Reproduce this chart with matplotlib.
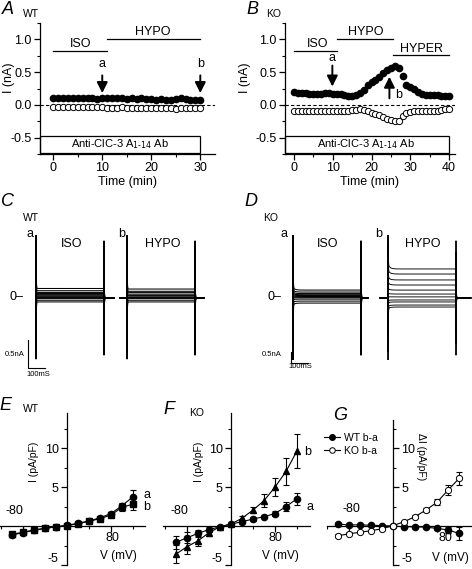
import numpy as np
import matplotlib
matplotlib.use('Agg')
import matplotlib.pyplot as plt
from matplotlib.patches import Rectangle
from matplotlib.lines import Line2D

plt.rcParams['font.family'] = ['Liberation Sans', 'DejaVu Sans']
plt.rcParams['axes.unicode_minus'] = False
plt.rcParams['axes.linewidth'] = 0.9
plt.rcParams['xtick.major.width'] = 0.9
plt.rcParams['ytick.major.width'] = 0.9
plt.rcParams['xtick.minor.width'] = 0.8
plt.rcParams['ytick.minor.width'] = 0.8

# ---- data: time courses (A, B) ----
tA = list(range(0, 31))
wt_filled = [0.10, 0.10, 0.11, 0.10, 0.11, 0.10, 0.11, 0.10, 0.10, 0.09, 0.11,
             0.11, 0.10, 0.10, 0.10, 0.09, 0.10, 0.09, 0.10, 0.09, 0.09, 0.08,
             0.09, 0.08, 0.08, 0.09, 0.10, 0.09, 0.08, 0.08, 0.08]
wt_open = [-0.03, -0.03, -0.03, -0.03, -0.04, -0.04, -0.04, -0.04, -0.04, -0.04,
           -0.04, -0.05, -0.05, -0.05, -0.04, -0.05, -0.05, -0.05, -0.05, -0.05,
           -0.05, -0.05, -0.05, -0.05, -0.05, -0.06, -0.05, -0.05, -0.05, -0.05, -0.05]
tB = list(range(0, 41))
ko_filled = [0.19, 0.18, 0.18, 0.18, 0.17, 0.17, 0.17, 0.17, 0.18, 0.18, 0.17,
             0.17, 0.16, 0.15, 0.14, 0.14, 0.15, 0.18, 0.23, 0.30, 0.35, 0.38,
             0.42, 0.48, 0.53, 0.56, 0.60, 0.57, 0.44, 0.31, 0.27, 0.24, 0.20,
             0.16, 0.15, 0.15, 0.15, 0.15, 0.14, 0.14, 0.14]
ko_open = [-0.09, -0.09, -0.09, -0.09, -0.09, -0.09, -0.09, -0.09, -0.09, -0.09,
           -0.09, -0.09, -0.09, -0.09, -0.09, -0.08, -0.08, -0.07, -0.08, -0.10,
           -0.12, -0.14, -0.16, -0.19, -0.21, -0.23, -0.25, -0.24, -0.17, -0.13,
           -0.11, -0.10, -0.10, -0.10, -0.10, -0.10, -0.09, -0.09, -0.08, -0.07, -0.07]

# ---- data: current traces (C, D), steady levels in nA ----
wt_iso_levels = [0.17, 0.13, 0.10, 0.08, 0.06, 0.04, 0.03, 0.01, -0.01, -0.04, -0.07]
wt_hypo_levels = [0.16, 0.12, 0.10, 0.07, 0.05, 0.04, 0.02, 0.01, -0.01, -0.04, -0.07]
ko_iso_levels = [0.36, 0.27, 0.20, 0.15, 0.11, 0.07, 0.04, 0.01, -0.05, -0.14, -0.23]
ko_hypo_levels = [1.32, 1.09, 0.82, 0.59, 0.36, 0.18, 0.05, -0.09, -0.18, -0.32, -0.41]

# ---- data: I-V (E, F, G) ----
V = [-100, -80, -60, -40, -20, 0, 20, 40, 60, 80, 100, 120]
E_a = [-1.15, -0.85, -0.55, -0.3, -0.1, 0.1, 0.35, 0.65, 1.05, 1.6, 2.6, 3.75]
E_a_err = [0.2, 0.15, 0.1, 0.1, 0.05, 0.05, 0.05, 0.1, 0.15, 0.2, 0.4, 0.9]
E_b = [-1.05, -0.8, -0.5, -0.3, -0.1, 0.05, 0.3, 0.6, 0.95, 1.4, 2.4, 2.8]
E_b_err = [0.2, 0.15, 0.1, 0.1, 0.05, 0.05, 0.05, 0.1, 0.15, 0.3, 0.5, 0.8]
F_a = [-2.1, -1.5, -0.95, -0.45, -0.1, 0.25, 0.55, 0.9, 1.2, 1.6, 2.5, 3.5]
F_a_err = [0.8, 0.7, 0.5, 0.3, 0.15, 0.1, 0.15, 0.2, 0.2, 0.3, 0.6, 0.8]
F_b = [-3.6, -2.65, -1.9, -0.85, -0.1, 0.25, 1.0, 2.05, 3.25, 5.0, 7.0, 9.65]
F_b_err = [1.2, 1.0, 0.6, 0.4, 0.2, 0.1, 0.3, 0.4, 0.8, 1.2, 1.7, 2.2]
G_wt = [0.25, 0.15, 0.15, 0.1, 0.05, 0.0, -0.1, -0.1, -0.15, -0.3, -0.5, -0.95]
G_wt_err = [0.1, 0.1, 0.1, 0.05, 0.05, 0.05, 0.05, 0.05, 0.1, 0.2, 0.4, 0.8]
G_ko = [-1.25, -1.0, -0.8, -0.6, -0.35, 0.05, 0.55, 1.2, 2.05, 3.05, 4.6, 6.1]
G_ko_err = [0.2, 0.2, 0.15, 0.1, 0.1, 0.05, 0.1, 0.2, 0.3, 0.4, 0.6, 0.8]

W, H = 472.0, 569.0
fig = plt.figure(figsize=(W / 100, H / 100), dpi=100)


def ax_px(x0, y0, x1, y1):
    return fig.add_axes([x0 / W, 1 - y1 / H, (x1 - x0) / W, (y1 - y0) / H])


def ftext(x, y, s, **kw):
    kw.setdefault('ha', 'center')
    kw.setdefault('va', 'center')
    fig.text(x / W, 1 - y / H, s, **kw)


def arrow(ax, x, y_from, y_to):
    ax.annotate('', xy=(x, y_to), xytext=(x, y_from),
                arrowprops=dict(arrowstyle='-|>', color='k', lw=1.4,
                                mutation_scale=16, shrinkA=0, shrinkB=0))


def time_panel(ax, t, filled, opened, xlim, t_end):
    ax.set_xlim(xlim)
    ax.set_ylim(-0.742, 1.242)
    ax.spines[['top', 'right']].set_visible(False)
    ax.set_yticks([-0.5, 0, 0.5, 1.0])
    ax.set_yticklabels(['-0.5', '0.0', '0.5', '1.0'])
    ax.set_yticks(np.arange(-0.75, 1.3, 0.25), minor=True)
    ax.set_xticks(np.arange(0, t_end + 1, 10))
    ax.set_xticks(np.arange(5, t_end, 10), minor=True)
    ax.tick_params(direction='out', length=4, labelsize=9, pad=2)
    ax.tick_params(which='minor', length=2.5)
    ax.axhline(0, ls=(0, (3, 2)), lw=0.8, color='k')
    ax.plot(t, filled, 'o', color='k', ms=4.5, zorder=3)
    ax.plot(t, opened, 'o', mfc='white', mec='k', ms=4.5, mew=0.7, zorder=3)
    ax.add_patch(Rectangle((xlim[0], -0.742), t_end - xlim[0], 0.742 - 0.47,
                           fill=False, lw=0.9, ec='k', clip_on=False))
    ax.set_xlabel('Time (min)', fontsize=9, labelpad=1)


# ---- A ----
axA = ax_px(40, 23, 215, 154)
time_panel(axA, tA, wt_filled, wt_open, (-2.7, 33), 30)
axA.text(13.7, -0.6, 'Anti-ClC-3 A$_{1\u201014}$ Ab', fontsize=8, ha='center', va='center')
axA.plot([0, 11], [0.83, 0.83], 'k-', lw=0.9)
axA.plot([11, 30], [1.0, 1.0], 'k-', lw=0.9)
axA.text(5.5, 0.93, 'ISO', fontsize=9, ha='center', va='center')
axA.text(20.4, 1.11, 'HYPO', fontsize=9, ha='center', va='center')
arrow(axA, 10, 0.45, 0.18)
arrow(axA, 30, 0.45, 0.18)
axA.text(10, 0.62, 'a', fontsize=9, ha='center', va='center')
axA.text(30, 0.62, 'b', fontsize=9, ha='center', va='center')
ftext(9, 78, 'I (nA)', fontsize=9, rotation=90)
ftext(8, 10, 'A', fontsize=13, style='italic')
ftext(31, 14, 'WT', fontsize=7.5)

# ---- B ----
axB = ax_px(285, 23, 455, 154)
time_panel(axB, tB, ko_filled, ko_open, (-2.3, 41.5), 40)
axB.text(18.6, -0.6, 'Anti-ClC-3 A$_{1\u201014}$ Ab', fontsize=8, ha='center', va='center')
axB.plot([0, 11], [0.83, 0.83], 'k-', lw=0.9)
axB.plot([11, 25.5], [1.0, 1.0], 'k-', lw=0.9)
axB.plot([25.5, 40], [0.76, 0.76], 'k-', lw=0.9)
axB.text(6.1, 0.93, 'ISO', fontsize=9, ha='center', va='center')
axB.text(18.6, 1.11, 'HYPO', fontsize=9, ha='center', va='center')
axB.text(32.8, 0.85, 'HYPER', fontsize=9, ha='center', va='center')
arrow(axB, 9.9, 0.6, 0.28)
arrow(axB, 24.6, 0.1, 0.43)
axB.text(9.9, 0.71, 'a', fontsize=9, ha='center', va='center')
axB.text(27, 0.15, 'b', fontsize=9, ha='center', va='center')
ftext(245, 78, 'I (nA)', fontsize=9, rotation=90)
ftext(252, 10, 'B', fontsize=13, style='italic')
ftext(274, 14, 'KO', fontsize=7.5)


# ---- C, D: current traces ----
def trace_axes(x0, x1, onset_px, px_per_nA):
    ax = ax_px(x0, 235, x1, 360)
    px_ms = 0.17
    ax.set_xlim((x0 - onset_px) / px_ms, (x1 - onset_px) / px_ms)
    ax.set_ylim(-(360 - 298) / px_per_nA, (298 - 235) / px_per_nA)
    ax.axis('off')
    return ax


def draw_traces(ax, levels, spike, t_start, t_end, decay=0.0, lw=0.75):
    t = np.arange(t_start, t_end, 0.5)
    n = len(levels)
    half = (n - 1) / 2.0
    for k, lev in enumerate(levels):
        amp = spike * (half - k) / half
        cur = np.zeros_like(t)
        on = (t >= 0) & (t < 400)
        cur[on] = lev + lev * decay * np.exp(-t[on] / 12.0) + amp * np.exp(-t[on] / 1.2)
        off = t >= 400
        cur[off] = -amp * np.exp(-(t[off] - 400) / 1.2)
        ax.plot(t, cur, color='k', lw=lw)


def scale_bar(ax, t0, y0):
    ax.plot([t0, t0, t0 + 100], [y0 + 0.5, y0, y0], color='k', lw=0.8, clip_on=False)


axCa = trace_axes(30, 118, 36, 56)
draw_traces(axCa, wt_iso_levels, 1.02, -0.5, 459)
scale_bar(axCa, -47, -1.25)
axCb = trace_axes(118, 206, 127, 56)
draw_traces(axCb, wt_hypo_levels, 1.02, -41, 453)
ftext(8, 201, 'C', fontsize=13, style='italic')
ftext(31, 218, 'WT', fontsize=7.5)
ftext(30, 234, 'a', fontsize=9)
ftext(72, 244, 'ISO', fontsize=9)
ftext(122, 234, 'b', fontsize=9)
ftext(163, 244, 'HYPO', fontsize=9)
ftext(16, 297, '0\u2013', fontsize=9)
ftext(15, 354, '0.5nA', fontsize=5.5)
ftext(38, 375, '100mS', fontsize=5.5)

axDa = trace_axes(285, 378, 293, 22)
draw_traces(axDa, ko_iso_levels, 2.6, -0.5, 441, decay=0.3)
scale_bar(axDa, -12, -2.95)
axDb = trace_axes(378, 472, 388, 22)
draw_traces(axDb, ko_hypo_levels, 2.6, -47, 488, decay=0.15, lw=0.65)
ftext(251, 201, 'D', fontsize=13, style='italic')
ftext(271, 218, 'KO', fontsize=7.5)
ftext(284, 234, 'a', fontsize=9)
ftext(328, 244, 'ISO', fontsize=9)
ftext(379, 234, 'b', fontsize=9)
ftext(423, 244, 'HYPO', fontsize=9)
ftext(275, 297, '0\u2013', fontsize=9)
ftext(272, 354, '0.5nA', fontsize=5.5)
ftext(300, 367, '100mS', fontsize=5.5)


# ---- E, F, G: I-V curves ----
def iv_axes(x0, y_top, x1, xlim, ylim, right=False):
    ax = ax_px(x0, y_top, x1, 565)
    ax.set_xlim(xlim)
    ax.set_ylim(ylim)
    ax.patch.set_alpha(0)
    ax.spines['bottom'].set_position(('data', 0))
    ax.spines['top'].set_visible(False)
    if right:
        ax.spines['right'].set_position(('data', 0))
        ax.spines['left'].set_visible(False)
        ax.yaxis.tick_right()
    else:
        ax.spines['left'].set_position(('data', 0))
        ax.spines['right'].set_visible(False)
    ax.set_xticks([-80, 80])
    ax.set_xticklabels([])
    ax.set_xticks([-120, -40, 40, 120], minor=True)
    ax.set_yticks([-5, 5, 10])
    ax.set_yticklabels(['-5', '5', '10'])
    ax.set_yticks(np.arange(-5, 14, 2.5), minor=True)
    ax.tick_params(direction='out', length=4, labelsize=9, pad=2)
    ax.tick_params(which='minor', length=2.5)
    for lab in ax.get_yticklabels():
        if lab.get_text() == '-5':
            lab.set_va('bottom')
    return ax


def iv_series(ax, y, err, marker, filled=True, ms=4.5):
    ax.errorbar(V, y, yerr=err, fmt='-', color='k', lw=0.8, elinewidth=0.8,
                capsize=2, capthick=0.8, zorder=2)
    if filled:
        ax.plot(V, y, marker, color='k', ms=ms, ls='none', zorder=3)
    else:
        ax.plot(V, y, marker, mfc='white', mec='k', mew=0.7, ms=ms, ls='none', zorder=3)


axE = iv_axes(0, 413, 145, (-122, 142), (-5.0, 14.5))
iv_series(axE, E_a, E_a_err, 'o')
iv_series(axE, E_b, E_b_err, 's', ms=4)
axE.text(-95, 1.15, '-80', fontsize=9, ha='center', va='bottom')
axE.text(82, -0.8, '80', fontsize=9, ha='center', va='top')
axE.text(93, -3.8, 'V (mV)', fontsize=8.5, ha='center', va='center')
axE.text(145, 4.0, 'a', fontsize=9, ha='center', va='center', clip_on=False)
axE.text(145, 2.4, 'b', fontsize=9, ha='center', va='center', clip_on=False)
ftext(34, 462, 'I (pA/pF)', fontsize=7.5, rotation=90)
ftext(5, 406, 'E', fontsize=13, style='italic')
ftext(31, 409, 'WT', fontsize=7.5)

axF = iv_axes(163, 413, 310, (-123.6, 143.6), (-5.0, 14.5))
iv_series(axF, F_a, F_a_err, 'o')
iv_series(axF, F_b, F_b_err, '^', ms=5)
axF.text(-93, 1.15, '-80', fontsize=9, ha='center', va='bottom')
axF.text(80, -0.8, '80', fontsize=9, ha='center', va='top')
axF.text(89, -3.9, 'V (mV)', fontsize=8.5, ha='center', va='center')
axF.text(140, 9.5, 'b', fontsize=9, ha='center', va='center', clip_on=False)
axF.text(143, 2.4, 'a', fontsize=9, ha='center', va='center', clip_on=False)
ftext(199, 462, 'I (pA/pF)', fontsize=7.5, rotation=90)
ftext(169, 409, 'F', fontsize=13, style='italic')
ftext(197, 413, 'KO', fontsize=7.5)

axG = iv_axes(327, 420, 472, (-120, 143.6), (-5.0, 13.6), right=True)
iv_series(axG, G_wt, G_wt_err, 'o')
iv_series(axG, G_ko, G_ko_err, 'o', filled=False)
axG.text(-75, 1.4, '-80', fontsize=9, ha='center', va='bottom')
axG.text(95, -0.8, '80', fontsize=9, ha='center', va='top')
axG.text(104, -4.1, 'V (mV)', fontsize=8.5, ha='center', va='center')
ftext(421, 457, '\u0394I (pA/pF)', fontsize=7.5, rotation=270)
ftext(340, 415, 'G', fontsize=13, style='italic')
handles = [Line2D([], [], color='k', marker='o', ms=4, lw=0.8, label='WT b-a'),
           Line2D([], [], color='k', marker='o', mfc='white', mew=0.7, ms=4, lw=0.8,
                  label='KO b-a')]
fig.legend(handles=handles, loc='upper left', bbox_to_anchor=(324 / W, 1 - 433 / H),
           frameon=False, fontsize=7.5, handlelength=1.5, handletextpad=0.4,
           borderaxespad=0, borderpad=0, labelspacing=0.25)

fig.savefig('out.png', dpi=100)
